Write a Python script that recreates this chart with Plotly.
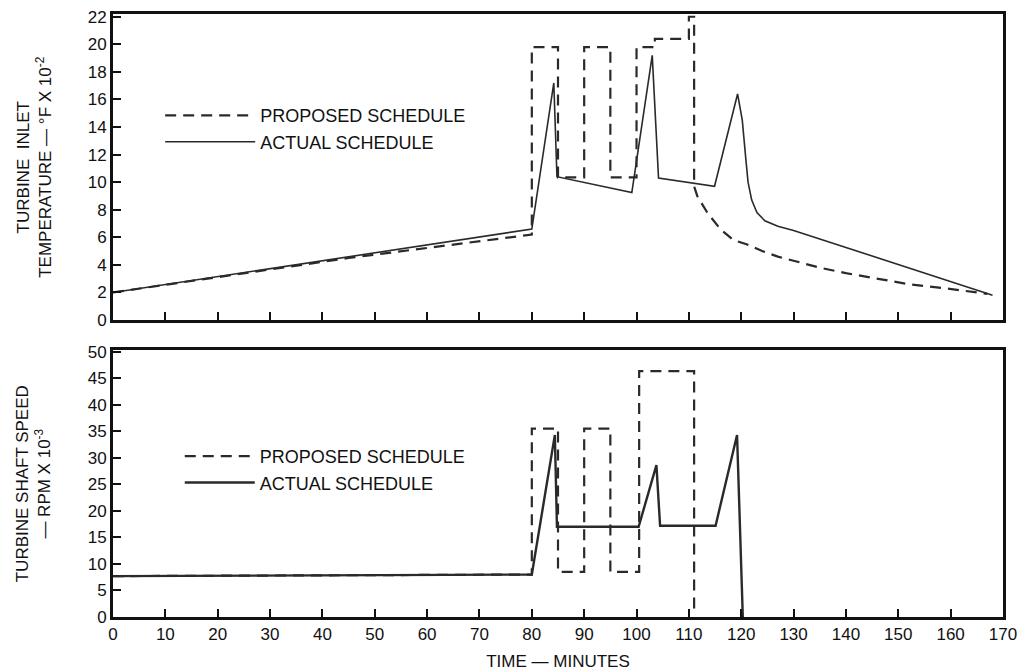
import plotly.graph_objects as go
from plotly.subplots import make_subplots

# ---- data: turbine inlet temperature (deg F x 10^-2) ----
temp_prop_t = [0, 45, 80, 80, 85, 85, 90, 90, 95, 95, 100, 100, 103.5, 103.5, 110, 110, 111, 111,
               111.6, 113.5, 116, 118.5, 121, 124, 127, 130, 135, 140, 146, 152, 159, 167]
temp_prop_v = [2.0, 4.5, 6.2, 19.8, 19.8, 10.35, 10.35, 19.8, 19.8, 10.35, 10.35, 19.8, 19.8, 20.4, 20.4, 22, 22, 9.7,
               9.0, 7.8, 6.6, 5.8, 5.5, 5.0, 4.6, 4.3, 3.8, 3.4, 3.0, 2.6, 2.3, 1.9]
temp_act_t = [0, 80, 84.2, 84.8, 99.1, 103.0, 104.2, 114.9, 119.3, 120.2, 120.8, 121.3, 122.0, 123.0,
              124.5, 127, 130, 168]
temp_act_v = [2.0, 6.6, 17.2, 10.4, 9.25, 19.2, 10.3, 9.7, 16.4, 14.5, 12.0, 10.0, 8.7, 7.8,
              7.2, 6.8, 6.5, 1.8]

# ---- data: turbine shaft speed (RPM x 10^-3) ----
speed_prop_t = [0, 80, 80, 85, 85, 90, 90, 95, 95, 100.5, 100.5, 111, 111]
speed_prop_v = [7.7, 8.0, 35.5, 35.5, 8.5, 8.5, 35.5, 35.5, 8.5, 8.5, 46.3, 46.3, 0.5]
speed_act_t = [0, 80, 84.4, 84.8, 100.4, 103.8, 104.5, 115.1, 119.2, 120.3]
speed_act_v = [7.7, 8.0, 34.3, 17.0, 17.0, 28.6, 17.2, 17.2, 34.3, 0]

x_ticks = list(range(0, 171, 10))
temp_ticks = list(range(0, 23, 2))
speed_ticks = list(range(0, 51, 5))

temp_title = "TURBINE  INLET<br>TEMPERATURE — °F X 10<sup>-2</sup>"
speed_title = "TURBINE SHAFT SPEED<br>— RPM X 10<sup>-3</sup>"
time_title = "TIME — MINUTES"

INK = "#2a2a2a"
FONT = "Liberation Sans"

fig = make_subplots(rows=2, cols=1, shared_xaxes=False, vertical_spacing=0.05)

fig.add_trace(go.Scatter(x=temp_prop_t, y=temp_prop_v, mode="lines", name="PROPOSED SCHEDULE",
                         line=dict(color=INK, width=2.2, dash="11px,7px"), legend="legend"), row=1, col=1)
fig.add_trace(go.Scatter(x=temp_act_t, y=temp_act_v, mode="lines", name="ACTUAL SCHEDULE",
                         line=dict(color=INK, width=1.6), legend="legend"), row=1, col=1)
fig.add_trace(go.Scatter(x=speed_prop_t, y=speed_prop_v, mode="lines", name="PROPOSED SCHEDULE",
                         line=dict(color=INK, width=2.2, dash="11px,7px"), legend="legend2"), row=2, col=1)
fig.add_trace(go.Scatter(x=speed_act_t, y=speed_act_v, mode="lines", name="ACTUAL SCHEDULE",
                         line=dict(color=INK, width=2.4), legend="legend2"), row=2, col=1)

axis_common = dict(showline=True, linewidth=3, linecolor="#111", mirror=True, showgrid=False,
                   zeroline=False, ticks="inside", ticklen=8, tickwidth=2, tickcolor="#111",
                   automargin=False, ticklabeloverflow="allow",
                   tickfont=dict(family=FONT, size=17, color="#111"))

fig.update_xaxes(range=[0, 170], tickvals=x_ticks, showticklabels=False, **axis_common, row=1, col=1)
fig.update_xaxes(range=[0, 170], tickvals=x_ticks,
                 title=dict(text=time_title, font=dict(family=FONT, size=17, color="#111"), standoff=12),
                 **axis_common, row=2, col=1)
fig.update_yaxes(range=[0, 22.2], tickvals=temp_ticks, **axis_common, row=1, col=1)
fig.update_yaxes(range=[0, 50.3], tickvals=speed_ticks, **axis_common, row=2, col=1)

title_font = dict(family=FONT, size=17, color="#111")
fig.add_annotation(text=temp_title, textangle=-90, xref="paper", yref="y domain",
                   x=-0.089, y=0.5, xanchor="center", yanchor="middle", showarrow=False,
                   font=title_font)
fig.add_annotation(text=speed_title, textangle=-90, xref="paper", yref="y2 domain",
                   x=-0.089, y=0.5, xanchor="center", yanchor="middle", showarrow=False,
                   font=title_font)

fig.update_layout(
    width=1017, height=663,
    margin=dict(l=105, r=22, t=6, b=54),
    paper_bgcolor="white", plot_bgcolor="white",
    xaxis=dict(domain=[0, 1]), xaxis2=dict(domain=[0, 1]),
    yaxis=dict(domain=[0.4925, 1.0]), yaxis2=dict(domain=[0.0, 0.4428]),
    legend=dict(x=0.053, y=0.862, xanchor="left", yanchor="top", itemwidth=90,
                font=dict(family=FONT, size=18, color="#111"), bgcolor="rgba(0,0,0,0)",
                tracegroupgap=0),
    legend2=dict(x=0.075, y=0.297, xanchor="left", yanchor="top", itemwidth=70,
                 font=dict(family=FONT, size=18, color="#111"), bgcolor="rgba(0,0,0,0)",
                 tracegroupgap=0),
    showlegend=True,
)

fig.write_html("out.html")
